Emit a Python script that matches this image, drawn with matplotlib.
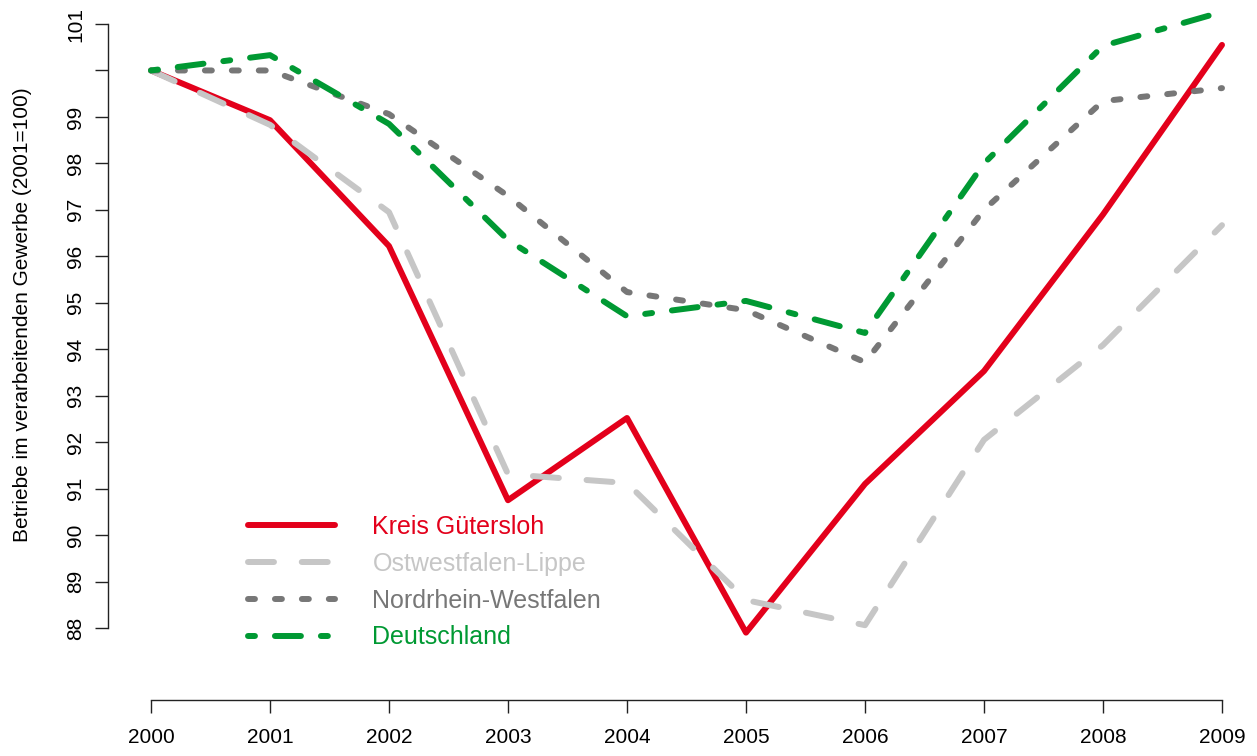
import matplotlib
matplotlib.use('Agg')
import matplotlib.pyplot as plt

plt.rcParams['font.family'] = ['Liberation Sans', 'DejaVu Sans']
plt.rcParams['lines.scale_dashes'] = False

years = [2000, 2001, 2002, 2003, 2004, 2005, 2006, 2007, 2008, 2009]

guetersloh = [100.0, 98.93, 96.22, 90.75, 92.52, 87.90, 91.10, 93.53, 96.90, 100.55]
owl = [100.0, 98.83, 96.95, 91.31, 91.12, 88.60, 88.06, 92.05, 94.09, 96.67]
nrw = [100.0, 100.0, 99.06, 97.30, 95.23, 94.84, 93.72, 97.00, 99.34, 99.62]
deutschland = [100.0, 100.33, 98.85, 96.35, 94.71, 95.04, 94.35, 98.00, 100.53, 101.26]

labels = ['Kreis Gütersloh', 'Ostwestfalen-Lippe', 'Nordrhein-Westfalen', 'Deutschland']
colors = ['#E3001B', '#C6C6C6', '#777777', '#009933']

yticks = list(range(88, 102))
ytick_labels = ['' if t == 100 else str(t) for t in yticks]

fig = plt.figure(figsize=(12.57, 7.56), dpi=100)
ax = fig.add_axes([108 / 1257, 56 / 756, 1 - 108 / 1257, 700 / 756])

lw = 4.3
common = dict(linewidth=lw, solid_capstyle='round', dash_capstyle='round',
              solid_joinstyle='round', dash_joinstyle='round')
ax.plot(years, guetersloh, color=colors[0], label=labels[0], **common)
ax.plot(years, owl, color=colors[1], label=labels[1], dashes=(18.7, 20.0), **common)
ax.plot(years, nrw, color=colors[2], label=labels[2], dashes=(5.0, 14.4), **common)
ax.plot(years, deutschland, color=colors[3], label=labels[3],
        dashes=(5.0, 14.4, 18.7, 14.4), **common)

ax.set_xlim(2000 - 43 / 119, 2009 + 35 / 119)
ax.set_ylim(101 - 676 / 46.46, 101 + 24 / 46.46)

for s in ['top', 'right']:
    ax.spines[s].set_visible(False)
ax.spines['left'].set_bounds(88, 101)
ax.spines['bottom'].set_bounds(2000, 2009)
for s in ['left', 'bottom']:
    ax.spines[s].set_linewidth(1.0)
    ax.spines[s].set_color('#222222')

ax.set_xticks(years)
ax.set_xticklabels([str(y) for y in years], fontsize=15)
ax.set_yticks(yticks)
ax.set_yticklabels(ytick_labels, fontsize=15, rotation=90, va='center')
ax.tick_params(axis='both', length=9.4, width=1.0, color='#222222')
ax.tick_params(axis='x', pad=11)
ax.tick_params(axis='y', pad=7)

fig.text(22.7 / 1257, 1 - 315 / 756, 'Betriebe im verarbeitenden Gewerbe (2001=100)',
         rotation=90, ha='center', va='center', fontsize=15)

leg = ax.legend(loc='upper left', bbox_to_anchor=(248 / 1257, 1 - 515 / 756),
                bbox_transform=fig.transFigure, frameon=False, fontsize=18,
                handlelength=3.48, handletextpad=1.5, labelspacing=0.51,
                borderpad=0, borderaxespad=0)
for txt, c in zip(leg.get_texts(), colors):
    txt.set_color(c)

fig.savefig('out.png', dpi=100)
